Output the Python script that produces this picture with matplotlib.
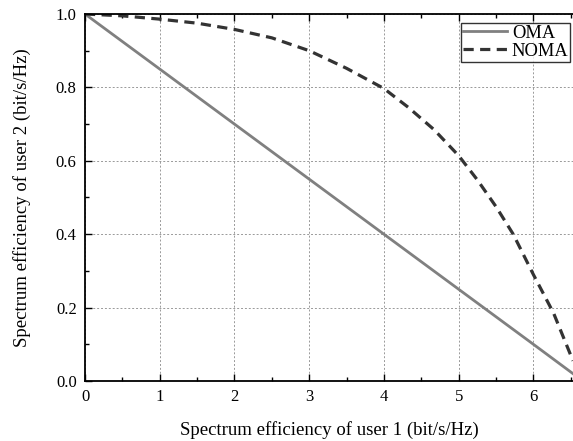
import numpy as np
import matplotlib
matplotlib.use("Agg")
import matplotlib.pyplot as plt
from matplotlib.ticker import MultipleLocator

plt.rcParams['font.family'] = ['Liberation Serif', 'DejaVu Serif']

# data
oma_x = [0.0, 1.0, 2.0, 3.0, 4.0, 5.0, 6.0, 6.53]
oma_y = [1.0, 0.85, 0.70, 0.55, 0.40, 0.25, 0.10, 0.02]

noma_x = [0.0, 0.5, 1.0, 1.5, 2.0, 2.5, 3.0, 3.5, 4.0, 4.33, 4.67, 5.0, 5.25, 5.5, 5.73, 6.0, 6.27, 6.53]
noma_y = [1.0, 0.995, 0.986, 0.975, 0.958, 0.935, 0.90, 0.852, 0.797, 0.745, 0.685, 0.614, 0.548, 0.475, 0.40, 0.29, 0.185, 0.055]

fig = plt.figure(figsize=(5.73, 4.41), dpi=100)
ax = fig.add_axes([85/573, 1 - 381/441, 1 - 85/573, (381 - 14)/441])

ax.plot(oma_x, oma_y, '-', color='#808080', linewidth=2, label='OMA')
ax.plot(noma_x, noma_y, '--', color='#333333', linewidth=2.3, dashes=(3.2, 2), label='NOMA')

ax.set_xlim(0, 6.53)
ax.set_ylim(0, 1.0)
ax.xaxis.set_major_locator(MultipleLocator(1))
ax.xaxis.set_minor_locator(MultipleLocator(0.5))
ax.yaxis.set_major_locator(MultipleLocator(0.2))
ax.yaxis.set_minor_locator(MultipleLocator(0.1))
ax.yaxis.set_major_formatter(plt.FormatStrFormatter('%.1f'))

ax.tick_params(which='both', direction='in', top=True, right=False, labelsize=12)
ax.tick_params(which='major', length=5, width=1, pad=6)
ax.tick_params(which='minor', length=3, width=1)
ax.grid(True, which='major', linestyle=(0, (2, 2)), color='#999999', linewidth=0.7)

for s in ['left', 'bottom', 'top']:
    ax.spines[s].set_linewidth(1.3)
ax.spines['right'].set_visible(False)

ax.set_xlabel('Spectrum efficiency of user 1 (bit/s/Hz)', fontsize=13.5, labelpad=11)
ax.set_ylabel('Spectrum efficiency of user 2 (bit/s/Hz)', fontsize=13.5, labelpad=18)

leg = ax.legend(loc='upper left', bbox_to_anchor=(461/573, 1 - 23/441),
                bbox_transform=fig.transFigure, fontsize=13.3, frameon=True,
                fancybox=False, edgecolor='black', borderpad=0.1, handlelength=2.4,
                handletextpad=0.25, labelspacing=0.05, borderaxespad=0)
leg.get_frame().set_linewidth(1)

fig.savefig('out.png', dpi=100)
